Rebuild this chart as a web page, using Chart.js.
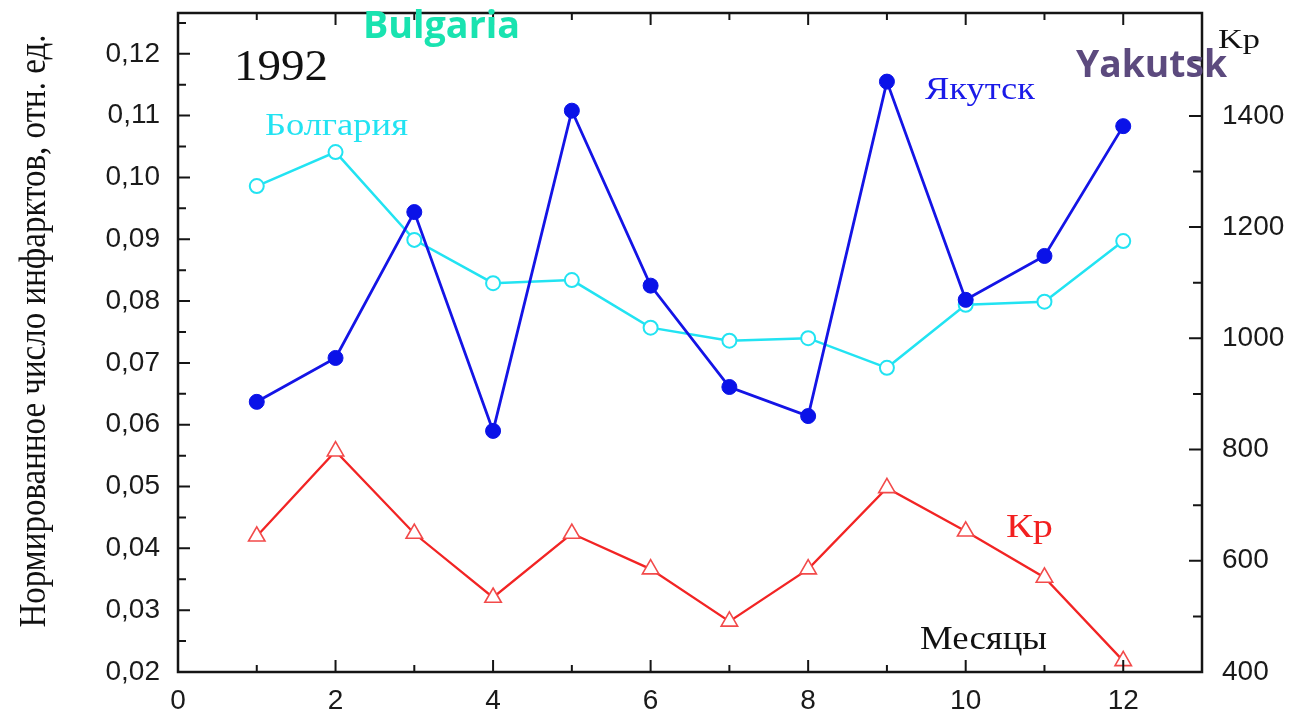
<!DOCTYPE html>
<html>
<head>
<meta charset="utf-8">
<script src="https://cdn.jsdelivr.net/npm/chart.js@4.4.1/dist/chart.umd.min.js"></script>
<style>
  html, body { margin: 0; padding: 0; background: #ffffff; }
  #wrap { position: relative; width: 1293px; height: 715px; }
</style>
</head>
<body>
<div id="wrap"><canvas id="c" width="1293" height="715"></canvas></div>
<script>
// Months of 1992
const months = [1, 2, 3, 4, 5, 6, 7, 8, 9, 10, 11, 12];
// Normalised number of heart attacks, Yakutsk (rel. units)
const yakutsk = [0.0637, 0.0708, 0.0944, 0.0590, 0.1108, 0.0825, 0.0661, 0.0614, 0.1155, 0.0802, 0.0873, 0.1083];
// Normalised number of heart attacks, Bulgaria (rel. units)
const bulgaria = [0.0986, 0.1041, 0.0899, 0.0829, 0.0834, 0.0757, 0.0736, 0.0740, 0.0692, 0.0794, 0.0799, 0.0897];
// Monthly sum of the Kp geomagnetic index
const kp = [644, 797, 649, 534, 649, 585, 491, 585, 731, 653, 570, 420];

// Tick labels of the three axes
const xTicks = [0, 2, 4, 6, 8, 10, 12];
const leftTicks = [0.02, 0.03, 0.04, 0.05, 0.06, 0.07, 0.08, 0.09, 0.10, 0.11, 0.12];
const rightTicks = [400, 600, 800, 1000, 1200, 1400];

// Axis ranges
const xRange = [0, 13];
const leftRange = [0.02, 0.1266];
const rightRange = [400, 1585];

const pts = (vals) => vals.map((v, i) => ({ x: months[i], y: v }));
const fixedTicks = (list) => (scale) => { scale.ticks = list.map((v) => ({ value: v })); };
const noEdgePadding = (s) => { s.paddingTop = 0; s.paddingBottom = 0; s.paddingLeft = 0; s.paddingRight = 0; };

const AXIS_COLOR = '#151515';
const SANS = '"Liberation Sans", Arial, sans-serif';
const SERIF = '"Liberation Serif", "Times New Roman", serif';

// Closed frame with inward-pointing major/minor tick marks on all four sides
const framePlugin = {
  id: 'frame',
  afterDatasetsDraw(chart) {
    const { ctx, chartArea: a, scales } = chart;
    const x = scales.x, yl = scales.yL, yr = scales.yR;
    ctx.save();
    ctx.strokeStyle = AXIS_COLOR;
    ctx.lineWidth = 2.5;
    ctx.strokeRect(a.left, a.top, a.right - a.left, a.bottom - a.top);
    ctx.lineWidth = 2;
    ctx.beginPath();
    // bottom and top: major every 2, minor every 1
    for (let v = xRange[0] + 1; v < xRange[1]; v++) {
      const px = x.getPixelForValue(v);
      const len = v % 2 === 0 ? 12 : 7;
      ctx.moveTo(px, a.bottom); ctx.lineTo(px, a.bottom - len);
      ctx.moveTo(px, a.top); ctx.lineTo(px, a.top + len);
    }
    // left: every 0.005
    for (let k = 1; k <= 21; k++) {
      const v = leftRange[0] + k * 0.005;
      if (v > leftRange[1]) break;
      const py = yl.getPixelForValue(v);
      const len = k % 2 === 0 ? 12 : 8;
      ctx.moveTo(a.left, py); ctx.lineTo(a.left + len, py);
    }
    // right: every 100
    for (let v = rightRange[0] + 100; v < rightRange[1]; v += 100) {
      const py = yr.getPixelForValue(v);
      const len = v % 200 === 0 ? 13 : 9;
      ctx.moveTo(a.right, py); ctx.lineTo(a.right - len, py);
    }
    ctx.stroke();
    ctx.restore();
  }
};

// Free text labels placed inside and around the plot; each is fitted to a given width
const textPlugin = {
  id: 'texts',
  afterDraw(chart) {
    const { ctx } = chart;
    const put = (txt, x, y, font, color, width) => {
      ctx.save();
      ctx.font = font; ctx.fillStyle = color;
      ctx.textAlign = 'left'; ctx.textBaseline = 'alphabetic';
      const w = ctx.measureText(txt).width;
      ctx.translate(x, y);
      if (width) ctx.scale(width / w, 1);
      ctx.fillText(txt, 0, 0);
      ctx.restore();
    };
    put('1992', 234, 80, `44px ${SERIF}`, '#111111', 94);
    put('Болгария', 265, 135, `32px ${SERIF}`, '#22E3F2', 143);
    put('Якутск', 925, 99, `32px ${SERIF}`, '#1A1AE8', 110);
    put('Кр', 1006, 537, `34px ${SERIF}`, '#F22020', 47);
    put('Месяцы', 920, 649, `33px ${SERIF}`, '#111111', 127);
    put('Kp', 1218, 48, `28px ${SERIF}`, '#111111', 42);
    put('Bulgaria', 363, 38, `bold 37px "Open Sans", sans-serif`, '#19E3B0', 157);
    put('Yakutsk', 1076, 77, `bold 37px "Open Sans", sans-serif`, '#5C4A7E', 151);

    // left axis title, rotated and fitted to its length
    ctx.save();
    const title = 'Нормированное число инфарктов, отн. ед.';
    ctx.font = `38px ${SERIF}`;
    ctx.fillStyle = '#111111';
    ctx.textAlign = 'center';
    ctx.textBaseline = 'alphabetic';
    const tw = ctx.measureText(title).width;
    ctx.translate(45, 331);
    ctx.rotate(-Math.PI / 2);
    ctx.scale(593 / tw, 1);
    ctx.fillText(title, 0, 0);
    ctx.restore();
  }
};

new Chart(document.getElementById('c'), {
  type: 'line',
  data: {
    datasets: [
      {
        label: 'Болгария',
        data: pts(bulgaria),
        yAxisID: 'yL',
        borderColor: '#22E3F2',
        borderWidth: 2.5,
        pointStyle: 'circle',
        pointRadius: 7,
        pointBorderWidth: 2,
        pointBackgroundColor: '#ffffff',
        pointBorderColor: '#22E3F2',
        tension: 0,
        order: 2
      },
      {
        label: 'Якутск',
        data: pts(yakutsk),
        yAxisID: 'yL',
        borderColor: '#1414E6',
        borderWidth: 2.8,
        pointStyle: 'circle',
        pointRadius: 7.5,
        pointBorderWidth: 1,
        pointBackgroundColor: '#0A12E8',
        pointBorderColor: '#0A12E8',
        tension: 0,
        order: 1
      },
      {
        label: 'Кр',
        data: pts(kp),
        yAxisID: 'yR',
        borderColor: '#F22424',
        borderWidth: 2.3,
        pointStyle: 'triangle',
        pointRadius: 9.5,
        pointBorderWidth: 1.6,
        pointBackgroundColor: '#ffffff',
        pointBorderColor: '#F24A4A',
        tension: 0,
        order: 3
      }
    ]
  },
  options: {
    responsive: false,
    animation: false,
    layout: { padding: { top: 13, left: 0, right: 0, bottom: 0 } },
    plugins: { legend: { display: false }, tooltip: { enabled: false } },
    scales: {
      x: {
        type: 'linear',
        min: xRange[0], max: xRange[1],
        grid: { display: false, drawTicks: false },
        border: { display: false },
        ticks: {
          padding: 12, color: '#1a1a1a', font: { family: SANS, size: 28 },
          maxRotation: 0, autoSkip: false,
          callback: (v) => String(v)
        },
        afterBuildTicks: fixedTicks(xTicks),
        afterFit(s) { s.height = 43; noEdgePadding(s); }
      },
      yL: {
        type: 'linear', position: 'left',
        min: leftRange[0], max: leftRange[1],
        grid: { display: false, drawTicks: false },
        border: { display: false },
        ticks: {
          padding: 18, color: '#1a1a1a', font: { family: SANS, size: 28 },
          autoSkip: false,
          callback: (v) => v.toFixed(2).replace('.', ',')
        },
        afterBuildTicks: fixedTicks(leftTicks),
        afterFit(s) { s.width = 178; noEdgePadding(s); }
      },
      yR: {
        type: 'linear', position: 'right',
        min: rightRange[0], max: rightRange[1],
        grid: { display: false, drawTicks: false },
        border: { display: false },
        ticks: {
          padding: 20, color: '#1a1a1a', font: { family: SANS, size: 28 },
          autoSkip: false,
          callback: (v) => String(v)
        },
        afterBuildTicks: fixedTicks(rightTicks),
        afterFit(s) { s.width = 91; noEdgePadding(s); }
      }
    }
  },
  plugins: [framePlugin, textPlugin]
});
</script>
</body>
</html>
